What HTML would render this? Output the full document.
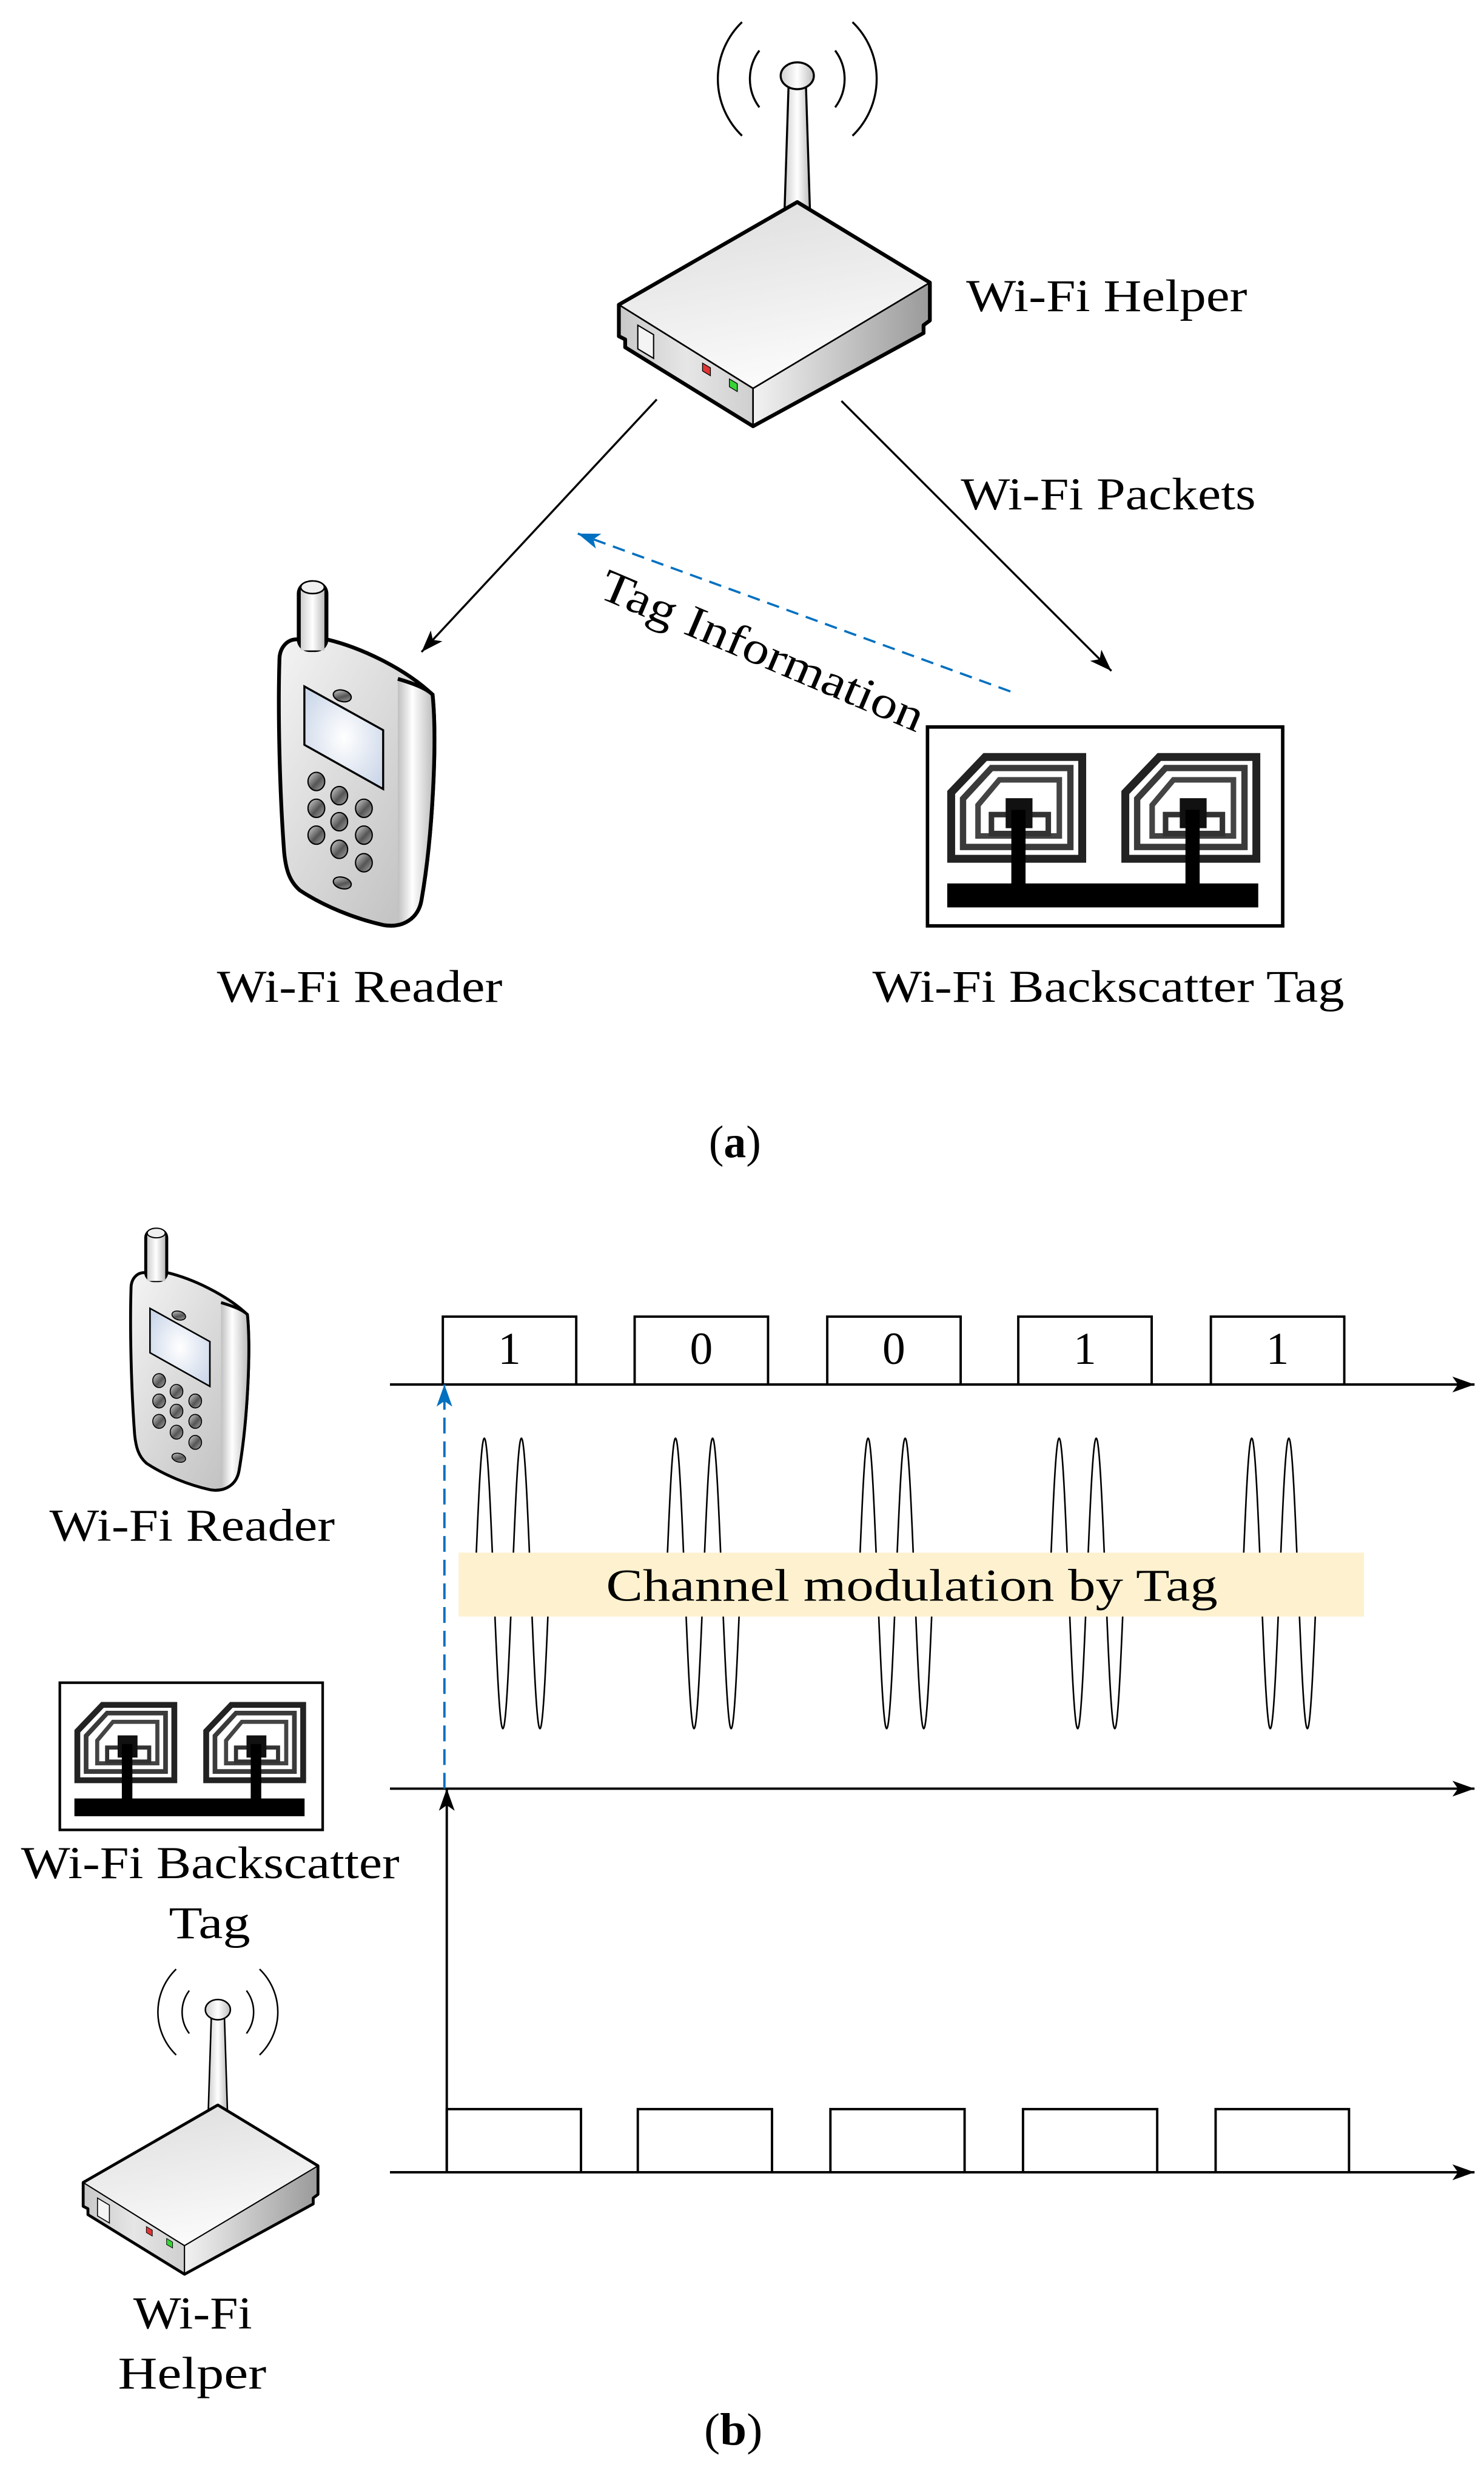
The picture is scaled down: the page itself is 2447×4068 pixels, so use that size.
<!DOCTYPE html>
<html><head><meta charset="utf-8"><style>
html,body{margin:0;padding:0;background:#fff;}
svg{display:block;}
text{font-family:"Liberation Serif",serif;fill:#000;}
</style></head><body>
<svg width="2447" height="4068" viewBox="0 0 940 1562.7" xmlns="http://www.w3.org/2000/svg">
<defs>
 <linearGradient id="gTop" x1="0" y1="0" x2="0.3" y2="1"><stop offset="0" stop-color="#dcdcdc"/><stop offset="1" stop-color="#fafafa"/></linearGradient>
 <linearGradient id="gLeft" x1="0" y1="0" x2="1" y2="0"><stop offset="0" stop-color="#c8c8c8"/><stop offset="0.5" stop-color="#e6e6e6"/><stop offset="1" stop-color="#cfcfcf"/></linearGradient>
 <linearGradient id="gRight" x1="0" y1="0" x2="1" y2="0"><stop offset="0" stop-color="#f2f2f2"/><stop offset="1" stop-color="#9a9a9a"/></linearGradient>
 <linearGradient id="gAnt" x1="0" y1="0" x2="1" y2="0"><stop offset="0" stop-color="#cfcfcf"/><stop offset="0.5" stop-color="#ffffff"/><stop offset="1" stop-color="#bdbdbd"/></linearGradient>
 <linearGradient id="gPhone" x1="0" y1="0" x2="1" y2="1"><stop offset="0" stop-color="#f4f4f4"/><stop offset="1" stop-color="#bcbcbc"/></linearGradient>
 <linearGradient id="gSide" x1="0" y1="0" x2="1" y2="0"><stop offset="0" stop-color="#c0c0c0"/><stop offset="0.4" stop-color="#ffffff"/><stop offset="1" stop-color="#b8b8b8"/></linearGradient>
 <radialGradient id="gScreen" cx="0.5" cy="0.5" r="0.6"><stop offset="0" stop-color="#ffffff"/><stop offset="1" stop-color="#cdd8ea"/></radialGradient>
 <linearGradient id="gKey" x1="0" y1="0" x2="1" y2="1"><stop offset="0" stop-color="#d8d8d8"/><stop offset="0.55" stop-color="#555"/><stop offset="1" stop-color="#aaa"/></linearGradient>
 <marker id="aBk" markerUnits="userSpaceOnUse" markerWidth="16" markerHeight="12" refX="14" refY="5" orient="auto"><path d="M0,0 L14,5 L0,10 L3.5,5 Z" fill="#000"/></marker>
 <marker id="aBl" markerUnits="userSpaceOnUse" markerWidth="16" markerHeight="12" refX="14" refY="5" orient="auto"><path d="M0,0 L14,5 L0,10 L3.5,5 Z" fill="#0070c0"/></marker>

 <g id="router">
  <g fill="none" stroke="#000" stroke-width="1.3">
   <path d="M481,32 A30,30 0 0 0 481,68"/>
   <path d="M470,14 A50,50 0 0 0 470,86"/>
   <path d="M529,32 A30,30 0 0 1 529,68"/>
   <path d="M540,14 A50,50 0 0 1 540,86"/>
  </g>
  <polygon points="499.5,54 510.5,54 513,132 497,132" fill="url(#gAnt)" stroke="#000" stroke-width="1.3"/>
  <ellipse cx="505" cy="48" rx="10.5" ry="8.5" fill="url(#gAnt)" stroke="#000" stroke-width="1.3"/>
  <polygon points="392,193 477,246 477,270 396,220 396,215 392,213" fill="url(#gLeft)" stroke="#000" stroke-width="1"/>
  <polygon points="477,246 589,179 589,203 585,206 585,211 477,270" fill="url(#gRight)" stroke="#000" stroke-width="1"/>
  <polygon points="505,128 589,179 477,246 392,193" fill="url(#gTop)" stroke="#000" stroke-width="1"/>
  <path d="M505,128 L589,179 L589,203 L585,206 L585,211 L477,270 L396,220 L396,215 L392,213 L392,193 Z" fill="none" stroke="#000" stroke-width="2.4" stroke-linejoin="round"/>
  <polygon points="404,206 414,212 414,227 404,221" fill="#f4f4f4" stroke="#000" stroke-width="0.8"/>
  <polygon points="445,230 450,233 450,238 445,235" fill="#e03434" stroke="#000" stroke-width="0.5"/>
  <polygon points="462,240 467,243 467,248 462,245" fill="#36d436" stroke="#000" stroke-width="0.5"/>
 </g>

 <g id="phone">
  <path d="M177,418 C177,410 182,405 188,405 L207,405 C228,410 256,423 274,440 C277,470 274,530 267,570 C265,582 255,588 243,586 C225,582 205,574 190,564 C183,558 181,550 180,540 C177,500 176,450 177,418 Z" fill="url(#gPhone)" stroke="#000" stroke-width="2.4"/>
  <path d="M252,430 C262,433 270,436 274,440 C277,470 274,530 267,570 C265,580 258,585 252,586 Z" fill="url(#gSide)"/>
  <path d="M252,430 C262,433 270,436 274,440 C277,470 274,530 267,570 C265,582 255,588 243,586" fill="none" stroke="#000" stroke-width="2.4"/>
  <rect x="188" y="368" width="20" height="45" rx="8" fill="#000"/>
  <rect x="190.5" y="372" width="15" height="40" fill="url(#gAnt)"/>
  <ellipse cx="198" cy="372" rx="7.5" ry="4" fill="#f0f0f0" stroke="#000" stroke-width="1"/>
  <polygon points="192.8,434.8 242.7,462.5 242.7,499.8 192.8,471.8" fill="url(#gScreen)" stroke="#000" stroke-width="1.3"/>
  <ellipse cx="216.8" cy="440.8" rx="5.8" ry="3.6" transform="rotate(15 216.8 440.8)" fill="url(#gKey)" stroke="#000" stroke-width="0.8"/>
  <ellipse cx="216.8" cy="559.3" rx="5.8" ry="3.6" transform="rotate(15 216.8 559.3)" fill="url(#gKey)" stroke="#000" stroke-width="0.8"/>
  <g fill="url(#gKey)" stroke="#000" stroke-width="0.8">
   <ellipse cx="200.4" cy="495" rx="5.3" ry="5.8"/><ellipse cx="214.9" cy="504" rx="5.3" ry="5.8"/><ellipse cx="230.5" cy="512" rx="5.3" ry="5.8"/>
   <ellipse cx="200.4" cy="512" rx="5.3" ry="5.8"/><ellipse cx="214.9" cy="520.5" rx="5.3" ry="5.8"/><ellipse cx="230.5" cy="529" rx="5.3" ry="5.8"/>
   <ellipse cx="200.4" cy="529" rx="5.3" ry="5.8"/><ellipse cx="214.9" cy="538" rx="5.3" ry="5.8"/><ellipse cx="230.5" cy="546.5" rx="5.3" ry="5.8"/>
  </g>
 </g>

 <g id="ant">
  <polygon points="602.5,544 602.5,502 624,479.5 685.5,479.5 685.5,544" fill="none" stroke="#222" stroke-width="5"/>
  <polygon points="610,536.5 610,506 628,486.5 678,486.5 678,536.5" fill="none" stroke="#3a3a3a" stroke-width="4"/>
  <polygon points="619.5,529.5 619.5,510 633,494 671,494 671,529.5" fill="none" stroke="#444" stroke-width="3.5"/>
  <rect x="628" y="516" width="36" height="12" fill="none" stroke="#333" stroke-width="3.5"/>
  <rect x="637" y="505.6" width="17" height="19" fill="#111"/>
  <rect x="640.6" y="513" width="9" height="48" fill="#000"/>
 </g>
 <g id="tag">
  <rect x="587.5" y="460.5" width="225" height="126" fill="#fff" stroke="#000" stroke-width="2.2"/>
  <use href="#ant"/>
  <use href="#ant" transform="translate(110.3,0)"/>
  <rect x="600" y="559.6" width="197" height="15.2" fill="#000"/>
 </g>

 <path id="wave" d="M0,0 C1.96,-48.2 3.76,-92 5.875,-92 C10.155,-92 13.345,92 17.625,92 C21.905,92 25.095,-92 29.375,-92 C33.655,-92 36.845,92 41.125,92 C43.24,92 45.04,48.2 47,0" fill="none" stroke="#000" stroke-width="1"/>
</defs>

<rect width="940" height="1562.7" fill="#fff"/>

<!-- (a) -->
<use href="#router"/>
<use href="#phone"/>
<use href="#tag"/>

<line x1="416" y1="253" x2="267" y2="413" stroke="#000" stroke-width="1.3" marker-end="url(#aBk)"/>
<line x1="533" y1="254" x2="704" y2="425" stroke="#000" stroke-width="1.3" marker-end="url(#aBk)"/>
<line x1="640" y1="438" x2="366" y2="338" stroke="#0070c0" stroke-width="1.4" stroke-dasharray="8,5" marker-end="url(#aBl)"/>

<text x="612" y="197" font-size="29" textLength="178" lengthAdjust="spacingAndGlyphs">Wi-Fi Helper</text>
<text x="608.6" y="322.6" font-size="29" textLength="186.8" lengthAdjust="spacingAndGlyphs">Wi-Fi Packets</text>
<text x="378" y="378" font-size="29" textLength="220" lengthAdjust="spacingAndGlyphs" transform="rotate(23 378 378)">Tag Information</text>
<text x="137.4" y="634.6" font-size="29" textLength="180.8" lengthAdjust="spacingAndGlyphs">Wi-Fi Reader</text>
<text x="552.6" y="634.6" font-size="29" textLength="298.9" lengthAdjust="spacingAndGlyphs">Wi-Fi Backscatter Tag</text>
<text x="449" y="733" font-size="29" textLength="33" lengthAdjust="spacingAndGlyphs">(<tspan font-weight="bold">a</tspan>)</text>

<!-- (b) -->
<use href="#phone" transform="translate(83,778) scale(0.76) translate(-177,-368)"/>
<use href="#tag" transform="translate(39,1067) scale(0.74) translate(-589,-462)"/>
<use href="#router" transform="translate(138,1273) scale(0.755) translate(-505,-48)"/>

<text x="31.3" y="976" font-size="29" textLength="180.8" lengthAdjust="spacingAndGlyphs">Wi-Fi Reader</text>
<text x="13.3" y="1189.7" font-size="29" textLength="239.7" lengthAdjust="spacingAndGlyphs">Wi-Fi Backscatter</text>
<text x="107" y="1227.8" font-size="29" textLength="51.5" lengthAdjust="spacingAndGlyphs">Tag</text>
<text x="84.4" y="1475" font-size="29" textLength="75.3" lengthAdjust="spacingAndGlyphs">Wi-Fi</text>
<text x="74.7" y="1513" font-size="29" textLength="94" lengthAdjust="spacingAndGlyphs">Helper</text>
<text x="446" y="1548.6" font-size="29" textLength="37" lengthAdjust="spacingAndGlyphs">(<tspan font-weight="bold">b</tspan>)</text>

<!-- waves -->
<use href="#wave" transform="translate(300.9,1003)"/>
<use href="#wave" transform="translate(422,1003)"/>
<use href="#wave" transform="translate(544,1003)"/>
<use href="#wave" transform="translate(665,1003)"/>
<use href="#wave" transform="translate(787,1003)"/>

<rect x="290.5" y="983.5" width="573.5" height="40.5" fill="#fdf1cf"/>
<text x="383.9" y="1014" font-size="29" textLength="387.4" lengthAdjust="spacingAndGlyphs">Channel modulation by Tag</text>

<!-- top boxes -->
<g fill="none" stroke="#000" stroke-width="1.5">
 <rect x="280.5" y="834" width="84.5" height="43"/>
 <rect x="402" y="834" width="84.5" height="43"/>
 <rect x="524" y="834" width="84.5" height="43"/>
 <rect x="645" y="834" width="84.5" height="43"/>
 <rect x="767" y="834" width="84.5" height="43"/>
 <rect x="283" y="1336" width="85" height="40"/>
 <rect x="404" y="1336" width="85" height="40"/>
 <rect x="526" y="1336" width="85" height="40"/>
 <rect x="648" y="1336" width="85" height="40"/>
 <rect x="770" y="1336" width="84.5" height="40"/>
</g>
<g font-size="29" text-anchor="middle">
 <text x="322.7" y="864">1</text>
 <text x="444.2" y="864">0</text>
 <text x="566.2" y="864">0</text>
 <text x="687.2" y="864">1</text>
 <text x="809.2" y="864">1</text>
</g>

<line x1="247" y1="877" x2="934" y2="877" stroke="#000" stroke-width="1.5" marker-end="url(#aBk)"/>
<line x1="247" y1="1133" x2="934" y2="1133" stroke="#000" stroke-width="1.5" marker-end="url(#aBk)"/>
<line x1="247" y1="1376" x2="934" y2="1376" stroke="#000" stroke-width="1.5" marker-end="url(#aBk)"/>
<line x1="283" y1="1376" x2="283" y2="1133" stroke="#000" stroke-width="1.5" marker-end="url(#aBk)"/>
<line x1="281.5" y1="1133" x2="281.5" y2="877" stroke="#0070c0" stroke-width="1.5" stroke-dasharray="10,5" marker-end="url(#aBl)"/>
</svg>
</body></html>
